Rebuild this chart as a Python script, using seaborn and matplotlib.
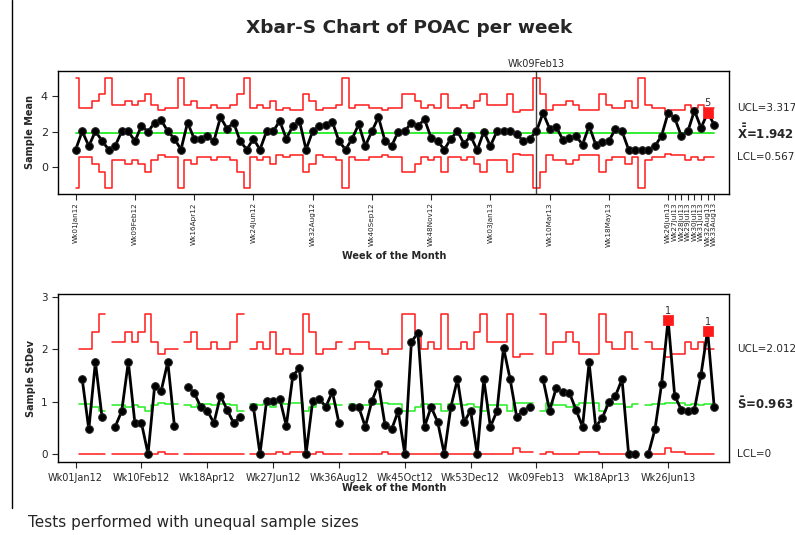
import math
import numpy as np
import pandas as pd
import matplotlib
matplotlib.use("Agg")
import matplotlib.pyplot as plt
from matplotlib.lines import Line2D
import seaborn as sns

# ---- data (one value per weekly subgroup) ----
xbar = [1.00, 2.02, 1.20, 2.02, 1.50, 1.00, 1.20, 2.02, 2.02, 1.47,
        2.32, 2.00, 2.51, 2.64, 2.02, 1.61, 1.00, 2.51, 1.61, 1.61,
        1.76, 1.47, 2.81, 2.17, 2.51, 1.47, 1.00, 1.61, 1.00, 2.02,
        2.02, 2.60, 1.61, 2.32, 2.60, 1.00, 2.02, 2.32, 2.36, 2.55,
        1.47, 1.00, 1.61, 2.41, 1.20, 2.02, 2.81, 1.47, 1.20, 2.00,
        2.02, 2.51, 2.32, 2.69, 1.65, 1.47, 1.00, 1.61, 2.02, 1.33,
        1.76, 0.97, 2.00, 1.20, 2.02, 2.02, 2.02, 1.86, 1.47, 1.61,
        2.02, 3.05, 2.17, 2.26, 1.56, 1.65, 1.76, 1.28, 2.32, 1.28,
        1.43, 1.47, 2.17, 2.02, 1.00, 1.00, 1.00, 1.00, 1.20, 1.76,
        3.05, 2.77, 1.76, 2.02, 3.18, 2.21, 3.05, 2.40]

sdev = [np.nan, 1.43, 0.47, 1.76, 0.71, np.nan, 0.52, 0.82, 1.76, 0.59,
        0.59, 0.00, 1.30, 1.21, 1.76, 0.54, np.nan, 1.29, 1.17, 0.90,
        0.83, 0.59, 1.11, 0.85, 0.59, 0.71, np.nan, 0.90, 0.00, 1.01,
        1.01, 1.06, 0.54, 1.50, 1.64, 0.00, 1.01, 1.06, 0.90, 1.19,
        0.59, np.nan, 0.90, 0.90, 0.52, 1.01, 1.34, 0.55, 0.47, 0.82,
        0.00, 2.14, 2.32, 0.52, 0.90, 0.61, 0.00, 0.90, 1.43, 0.61,
        0.83, 0.00, 1.43, 0.52, 0.82, 2.03, 1.43, 0.71, 0.83, 0.90,
        np.nan, 1.43, 0.83, 1.26, 1.19, 1.17, 0.85, 0.52, 1.75, 0.52,
        0.69, 0.99, 1.11, 1.43, 0.00, 0.00, np.nan, 0.00, 0.47, 1.33,
        2.57, 1.11, 0.85, 0.83, 0.85, 1.52, 2.36, 0.90]

size = [1, 5, 5, 3, 2, 1, 4, 4, 3, 4,
        3, 2, 4, 6, 5, 5, 1, 4, 3, 5,
        5, 4, 5, 5, 4, 2, 1, 5, 4, 5,
        3, 6, 5, 6, 6, 2, 3, 6, 5, 5,
        4, 1, 5, 4, 4, 5, 5, 6, 5, 5,
        2, 2, 3, 5, 4, 5, 2, 5, 5, 4,
        5, 3, 2, 4, 4, 4, 2, 7, 6, 6,
        1, 2, 6, 4, 4, 3, 4, 6, 6, 6,
        2, 4, 5, 5, 3, 5, 1, 4, 5, 5,
        7, 6, 6, 4, 5, 4, 5, 5]

top_tick_pos = [0, 9, 18, 27, 36, 45, 54, 63, 72, 81,
                90, 91, 92, 93, 94, 95, 96, 97]
top_tick_labels = ["Wk01Jan12", "Wk09Feb12", "Wk16Apr12", "Wk24Jun12", "Wk32Aug12",
                   "Wk40Sep12", "Wk48Nov12", "Wk03Jan13", "Wk10Mar13", "Wk18May13",
                   "Wk26Jun13", "Wk27Jul13", "Wk28Jul13", "Wk29Jul13", "Wk30Jul13",
                   "Wk31Jul13", "Wk32Aug13", "Wk33Aug13"]
bot_tick_pos = [0, 10, 20, 30, 40, 50, 60, 70, 80, 90]
bot_tick_labels = ["Wk01Jan12", "Wk10Feb12", "Wk18Apr12", "Wk27Jun12", "Wk36Aug12",
                   "Wk45Oct12", "Wk53Dec12", "Wk09Feb13", "Wk18Apr13", "Wk26Jun13"]

XBARBAR = 1.942
SIGMA = 1.0245          # implied by UCL=3.317 / S-bar=0.963 at n=5
STAGE_AT = 70
STAGE_LABEL = "Wk09Feb13"
flag_xbar = {96: "5"}
flag_s = {90: "1", 96: "1"}

# ---- limits (Minitab style, unequal n) ----
def c4(n):
    if n < 2:
        return np.nan
    return math.sqrt(2.0 / (n - 1)) * math.exp(math.lgamma(n / 2) - math.lgamma((n - 1) / 2))

df = pd.DataFrame({"sample": np.arange(len(xbar)), "xbar": xbar, "sdev": sdev, "n": size})
df["x_ucl"] = XBARBAR + 3 * SIGMA / np.sqrt(df["n"])
df["x_lcl"] = XBARBAR - 3 * SIGMA / np.sqrt(df["n"])
cc = df["n"].apply(c4)
df["s_cl"] = cc * SIGMA
df["s_ucl"] = (cc + 3 * np.sqrt(1 - cc ** 2)) * SIGMA
df["s_lcl"] = np.clip(cc - 3 * np.sqrt(1 - cc ** 2), 0, None) * SIGMA
df["seg"] = df["sdev"].isna().cumsum()

RED = "#ff1a1a"
GREEN = "#22ee22"

sns.set_style("white")
plt.rcParams["font.family"] = ["DejaVu Sans"]

fig = plt.figure(figsize=(7.95, 5.35), dpi=100)
ax1 = fig.add_axes([0.0733, 0.6374, 0.8441, 0.2299])
ax2 = fig.add_axes([0.0733, 0.1359, 0.8441, 0.3151])

# ---- Xbar chart ----
ax1.step(df["sample"], df["x_ucl"], where="mid", color=RED, lw=1.1)
ax1.step(df["sample"], df["x_lcl"], where="mid", color=RED, lw=1.1)
ax1.plot(df["sample"], [XBARBAR] * len(df), color=GREEN, lw=1.3)
ax1.axvline(STAGE_AT, color="#444444", lw=1)
sns.lineplot(data=df, x="sample", y="xbar", ax=ax1, color="black", lw=2.0,
             marker="o", markersize=5.5, markeredgecolor="#222222", zorder=5)
fx = df.loc[list(flag_xbar)]
sns.scatterplot(data=fx, x="sample", y="xbar", ax=ax1, marker="s", s=45,
                color=RED, edgecolor=RED, zorder=6)
for i, lab in flag_xbar.items():
    ax1.text(i, df.loc[i, "xbar"] + 0.25, lab, ha="center", va="bottom", fontsize=7, color="#333")
ax1.text(STAGE_AT, 5.5, STAGE_LABEL, ha="center", va="bottom", fontsize=7)

ax1.set_xlim(-2.64, 99.3)
ax1.set_ylim(-1.48, 5.39)
ax1.set_yticks([0, 2, 4])
ax1.set_xticks(top_tick_pos)
ax1.set_xticklabels(top_tick_labels, rotation=90, fontsize=5.2, color="#222")
ax1.tick_params(axis="y", labelsize=8, length=4, direction="out", left=True)
ax1.tick_params(axis="x", length=4, direction="out", bottom=True, pad=2)
ax1.set_ylabel("Sample Mean", fontsize=7, fontweight="bold")
ax1.set_xlabel("Week of the Month", fontsize=7, fontweight="bold", labelpad=3)

last = df.iloc[-1]
ax1.text(1.0115, last["x_ucl"], "UCL=%.3f" % last["x_ucl"], transform=ax1.get_yaxis_transform(),
         va="center", fontsize=7.5)
ax1.text(1.0115, XBARBAR, r"$\mathbf{\bar{\bar{X}}}$=1.942", transform=ax1.get_yaxis_transform(),
         va="center", fontsize=8.5, fontweight="bold")
ax1.text(1.0115, last["x_lcl"], "LCL=%.3f" % last["x_lcl"], transform=ax1.get_yaxis_transform(),
         va="center", fontsize=7.5)

# ---- S chart ----
ax2.step(df["sample"], df["s_ucl"], where="mid", color=RED, lw=1.1)
ax2.step(df["sample"], df["s_lcl"], where="mid", color=RED, lw=1.1)
ax2.step(df["sample"], df["s_cl"], where="mid", color=GREEN, lw=1.1)
sns.lineplot(data=df.dropna(subset=["sdev"]), x="sample", y="sdev", units="seg",
             estimator=None, ax=ax2, color="black", lw=2.0, marker="o",
             markersize=5.5, markeredgecolor="#222222", zorder=5)
fs = df.loc[list(flag_s)]
sns.scatterplot(data=fs, x="sample", y="sdev", ax=ax2, marker="s", s=45,
                color=RED, edgecolor=RED, zorder=6)
for i, lab in flag_s.items():
    ax2.text(i, df.loc[i, "sdev"] + 0.07, lab, ha="center", va="bottom", fontsize=7, color="#333")

ax2.set_xlim(-2.64, 99.3)
ax2.set_ylim(-0.159, 3.065)
ax2.set_yticks([0, 1, 2, 3])
ax2.set_xticks(bot_tick_pos)
ax2.set_xticklabels(bot_tick_labels, fontsize=7)
ax2.tick_params(axis="both", labelsize=7.5, length=4, direction="out", left=True, bottom=True)
ax2.tick_params(axis="x", labelsize=7)
ax2.set_ylabel("Sample StDev", fontsize=7, fontweight="bold")
ax2.set_xlabel("Week of the Month", fontsize=7, fontweight="bold", labelpad=0)

ax2.text(1.0115, last["s_ucl"], "UCL=%.3f" % last["s_ucl"], transform=ax2.get_yaxis_transform(),
         va="center", fontsize=7.5)
ax2.text(1.0115, last["s_cl"], r"$\mathbf{\bar{S}}$=0.963", transform=ax2.get_yaxis_transform(),
         va="center", fontsize=8.5, fontweight="bold")
ax2.text(1.0115, 0, "LCL=0", transform=ax2.get_yaxis_transform(), va="center", fontsize=7.5)

for ax in (ax1, ax2):
    for sp in ax.spines.values():
        sp.set_color("black")
        sp.set_linewidth(1)

fig.text(0.515, 0.947, "Xbar-S Chart of POAC per week", ha="center", va="center",
         fontsize=13.3, fontweight="bold")
fig.text(0.035, 0.024, "Tests performed with unequal sample sizes", ha="left", va="center", fontsize=11)
fig.add_artist(Line2D([0.0147, 0.0147], [0.05, 1.0], color="black", lw=1, transform=fig.transFigure))

fig.savefig("out.png", dpi=100)
